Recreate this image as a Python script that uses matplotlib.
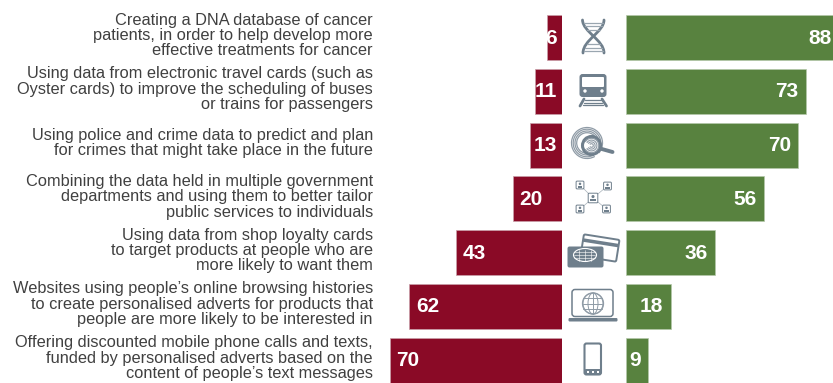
import numpy as np
import matplotlib
matplotlib.use("Agg")
import matplotlib.pyplot as plt
from matplotlib.patches import FancyBboxPatch, Rectangle, Circle, Ellipse, Arc, PathPatch
from matplotlib.path import Path
from matplotlib.transforms import Affine2D

categories = [
    "Creating a DNA database of cancer\npatients, in order to help develop more\neffective treatments for cancer",
    "Using data from electronic travel cards (such as\nOyster cards) to improve the scheduling of buses\nor trains for passengers",
    "Using police and crime data to predict and plan\nfor crimes that might take place in the future",
    "Combining the data held in multiple government\ndepartments and using them to better tailor\npublic services to individuals",
    "Using data from shop loyalty cards\nto target products at people who are\nmore likely to want them",
    "Websites using people\u2019s online browsing histories\nto create personalised adverts for products that\npeople are more likely to be interested in",
    "Offering discounted mobile phone calls and texts,\nfunded by personalised adverts based on the\ncontent of people\u2019s text messages",
]
red_values = [6, 11, 13, 20, 43, 62, 70]
green_values = [88, 73, 70, 56, 36, 18, 9]

RED = "#8a0a26"
GREEN = "#58823f"
ICON = "#6f7f8c"
TXT = "#404040"
W, H = 833, 383
plt.rcParams["font.family"] = ["Liberation Sans", "DejaVu Sans"]

fig = plt.figure(figsize=(W / 100, H / 100), dpi=100)
PXU = 2.457
RED_BASE = 561.7
GREEN_BASE = 626.3
PITCH = 53.75
TOP_C = 37.5


def make_axes(x0, x1, xlim):
    ax = fig.add_axes([x0 / W, 0, (x1 - x0) / W, 1])
    ax.set_xlim(*xlim)
    ax.set_ylim((H - TOP_C) / PITCH, -TOP_C / PITCH)
    ax.axis("off")
    ax.patch.set_alpha(0)
    return ax


ax_l = make_axes(0, RED_BASE, (RED_BASE / PXU, 0))
ax_r = make_axes(GREEN_BASE, W, (0, (W - GREEN_BASE) / PXU))
ys = np.arange(len(categories))
BH = 45 / PITCH
ax_l.barh(ys, red_values, height=BH, color=RED, edgecolor="#c9a0aa", linewidth=0.5)
ax_r.barh(ys, green_values, height=BH, color=GREEN, edgecolor="#b5c8aa", linewidth=0.5)

vfs = 15
xmax_r = (W - GREEN_BASE) / PXU
for y, v in zip(ys, red_values):
    if v <= 13:
        ax_l.text(1.8, y + 0.01, str(v), ha="right", va="center", color="white",
                  fontsize=vfs, fontweight="bold")
    else:
        ax_l.text(v - 2.8, y + 0.01, str(v), ha="left", va="center", color="white",
                  fontsize=vfs, fontweight="bold")
for y, v in zip(ys, green_values):
    ax_r.text(min(v - 3.05, xmax_r - 0.5), y + 0.01, str(v), ha="right", va="center", color="white",
              fontsize=vfs, fontweight="bold")

# overlay in pixel units for row labels and icons
ov = fig.add_axes([0, 0, 1, 1])
ov.set_xlim(0, W)
ov.set_ylim(H, 0)
ov.axis("off")
ov.patch.set_alpha(0)

for y, c in zip(ys, categories):
    ov.text(373, TOP_C - 2.0 + y * PITCH, c, ha="right", va="center", color=TXT,
            fontsize=11.8, linespacing=1.03, multialignment="right")


def ln(xs, ys_, lw=1.5, c=ICON, z=2):
    ov.plot(xs, ys_, color=c, lw=lw, solid_capstyle="round", zorder=z)


def curve(pts, lw=2, c=ICON):
    codes = [Path.MOVETO] + [Path.CURVE4] * (len(pts) - 1)
    ov.add_patch(PathPatch(Path(pts, codes), fill=False, ec=c, lw=lw, capstyle="round"))


# DNA
curve([(582.5, 20), (583, 32), (604, 40), (604, 53)])
curve([(604, 20), (604, 32), (583, 40), (583, 53)])
for yy, a, b in [(23, 584, 603), (26, 585, 602), (29.5, 587, 600), (44, 587, 600), (47.5, 585, 602), (50.5, 584, 603)]:
    ln([a, b], [yy, yy], lw=0.9, c="#9aa6b0")

# Train
ov.add_patch(FancyBboxPatch((581, 75.5), 24, 20, boxstyle="round,pad=1.5,rounding_size=3", fc=ICON, ec="none"))
ov.add_patch(FancyBboxPatch((582, 77), 22, 10, boxstyle="round,pad=0,rounding_size=1", fc="white", ec="none"))
ov.add_patch(Circle((585, 91), 1.7, fc="white", ec="none"))
ov.add_patch(Circle((602, 91), 1.7, fc="white", ec="none"))
ln([584, 580], [99, 106], lw=2)
ln([602, 606.5], [99, 106], lw=2)
for yy, a, b in [(100, 585, 601), (102.5, 584, 602), (105, 583, 603)]:
    ln([a, b], [yy, yy], lw=0.9)

# Fingerprint with magnifier
for r in [15.5, 13.8, 12, 10.3]:
    ov.add_patch(Arc((587, 143), 2 * r, 2 * r, theta1=60, theta2=400, ec="#8f9ba6", lw=0.9))
ov.add_patch(Circle((591.5, 145.5), 9, fc="white", ec=ICON, lw=2.2, zorder=3))
for r in [1.8, 3.6, 5.4, 7.2]:
    ov.add_patch(Arc((591.5, 145.5), 2 * r, 2 * r, theta1=210, theta2=510, ec="#8f9ba6", lw=0.8, zorder=4))
ln([600, 612.5], [148.5, 152], lw=2.8)

# Network
nodes = [(580, 185), (607.5, 186), (593, 198), (580, 209), (606.5, 209)]
for nx, ny in nodes[:2] + nodes[3:]:
    ln([nx, 593], [ny, 198], lw=0.5, c="#a8b2ba")
for i, (nx, ny) in enumerate(nodes):
    s = 4.8 if i == 2 else 3.9
    ov.add_patch(FancyBboxPatch((nx - s, ny - s), 2 * s, 2 * s, boxstyle="round,pad=0,rounding_size=1",
                                fc="white", ec=ICON, lw=0.7, zorder=3))
    ov.add_patch(Circle((nx, ny - s * 0.3), s * 0.32, fc=ICON, ec="none", zorder=4))
    ov.add_patch(Rectangle((nx - s * 0.6, ny + s * 0.2), s * 1.2, s * 0.5, fc=ICON, ec="none", zorder=4))

# Cards
rot = Affine2D().rotate_deg_around(600, 248, 9) + ov.transData
ov.add_patch(FancyBboxPatch((582, 237), 36, 22, boxstyle="round,pad=0,rounding_size=1.5", fc="white", ec=ICON, lw=1.4,
                            transform=rot, zorder=3))
ov.add_patch(Rectangle((582, 241), 36, 3.5, fc=ICON, ec="none", transform=rot, zorder=3))
ov.add_patch(FancyBboxPatch((567.5, 246.5), 36, 21, boxstyle="round,pad=0,rounding_size=2", fc=ICON, ec="none", zorder=4))
ov.add_patch(Ellipse((585, 255), 23, 13, fc="none", ec="white", lw=0.8, zorder=5))
for dx in (-6, 0, 6):
    ln([585 + dx, 585 + dx], [249.5, 260.5], lw=0.4, c="white", z=5)
for yy in (252, 255, 258):
    ln([574.5, 595.5], [yy, yy], lw=0.4, c="white", z=5)

# Laptop
ov.add_patch(FancyBboxPatch((572, 289.5), 41, 27, boxstyle="round,pad=0,rounding_size=3", fc="white", ec=ICON, lw=1.1))
ov.add_patch(FancyBboxPatch((568.5, 318), 49, 3.5, boxstyle="round,pad=0,rounding_size=1.2", fc=ICON, ec="none"))
ov.add_patch(Circle((593, 303.5), 10.5, fc="white", ec="#8f9ba6", lw=0.9))
for w_ in (20, 10):
    ov.add_patch(Ellipse((593, 303.5), w_, 21, fc="none", ec="#8f9ba6", lw=0.7))
ln([593, 593], [293, 314], lw=0.7, c="#8f9ba6")
for yy in (298, 303.5, 309):
    ln([583.5, 602.5], [yy, yy], lw=0.7, c="#8f9ba6")

# Phone
ov.add_patch(FancyBboxPatch((584.5, 343.5), 16.5, 31, boxstyle="round,pad=0,rounding_size=2", fc="white", ec=ICON, lw=1.5))
ov.add_patch(FancyBboxPatch((584.5, 369), 16.5, 6, boxstyle="round,pad=0,rounding_size=1.5", fc=ICON, ec="none"))
for xx in (588, 593, 598):
    ov.add_patch(Rectangle((xx - 1.2, 371), 2.4, 1.6, fc="white", ec="none"))

fig.savefig("out.png", dpi=100)
